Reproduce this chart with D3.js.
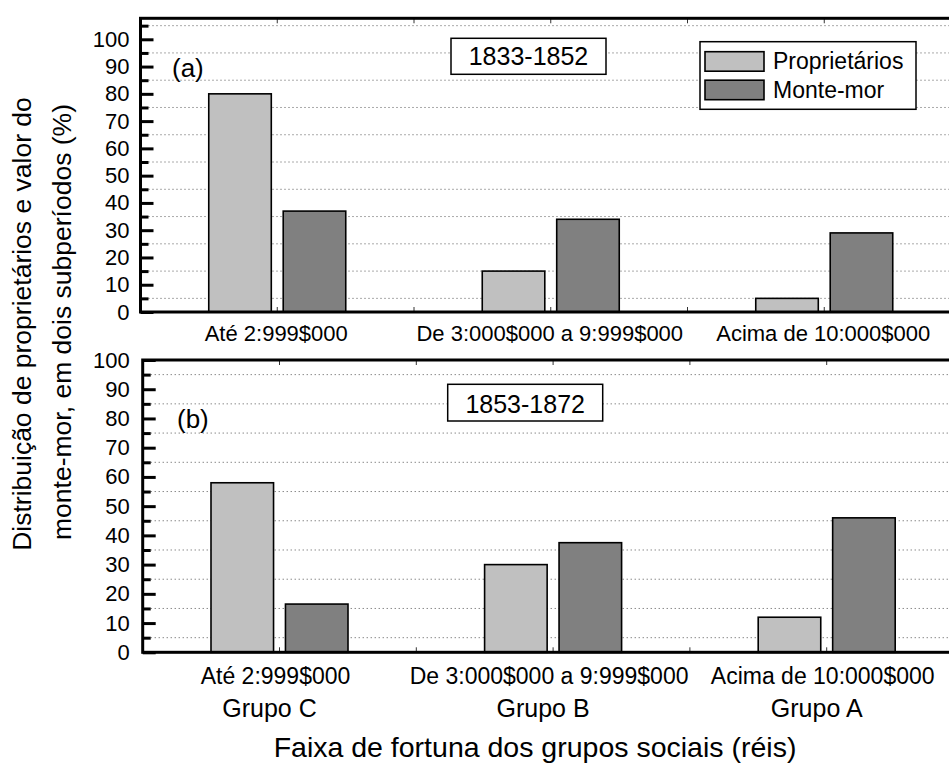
<!DOCTYPE html>
<html>
<head>
<meta charset="utf-8">
<script src="https://cdnjs.cloudflare.com/ajax/libs/d3/7.8.5/d3.min.js"></script>
<style>
body { margin: 0; background: #fff; }
svg { display: block; font-family: "Liberation Sans", Arial, sans-serif; }
</style>
</head>
<body>
<div id="chart"></div>
<script>
// data
var categories = ["Até 2:999$000", "De 3:000$000 a 9:999$000", "Acima de 10:000$000"]
var groupNames = ["Grupo C", "Grupo B", "Grupo A"]
var seriesNames = ["Proprietários", "Monte-mor"]
var periods = ["1833-1852", "1853-1872"]
var panelTags = ["(a)", "(b)"]
var proprietarios1 = [80, 15, 5]
var montemor1 = [37, 34, 29]
var proprietarios2 = [58, 30, 12]
var montemor2 = [16.5, 37.5, 46]
var majorTicks = d3.range(0, 101, 10)
var minorTicks = d3.range(5, 106, 10)

var colors = { "Proprietários": "#c0c0c0", "Monte-mor": "#808080" }

var width = 949, height = 766

var svg = d3.select('#chart')
    .append('svg')
    .attr('width', width)
    .attr('height', height)

function rows(a, b) {
    return categories.map(function(c, i) {
        return { cat: c, values: [ { key: seriesNames[0], v: a[i] }, { key: seriesNames[1], v: b[i] } ] }
    })
}

var panels = [
    { data: rows(proprietarios1, montemor1), xr: [140.5, 961], yDom: [0, 107.7], yr: [312, 18.3],
      tick: 11, labelOff: -1, labelY: 341, labelSize: 22, tag: [172, 77],
      box: { x: 451, y: 38.3, w: 155, h: 36, ty: 65 }, legend: true },
    { data: rows(proprietarios2, montemor2), xr: [142.7, 963.5], yDom: [0, 100], yr: [652.3, 360],
      tick: 13, labelOff: -4, labelY: 684, labelSize: 23, tag: [177, 428],
      box: { x: 447.7, y: 384.3, w: 155, h: 36.7, ty: 412.7 }, legend: false }
]

panels.forEach(function(p, pi) {
    var g = svg.append('g')

    var x = d3.scaleBand().domain(categories).range(p.xr).padding(0)
    var inner = d3.scaleBand().domain(seriesNames).range([-68.5, 68.5]).paddingInner(0.16)
    var y = d3.scaleLinear().domain(p.yDom).range(p.yr)

    var left = p.xr[0], right = p.xr[1], top = p.yr[1], bottom = p.yr[0]

    // dotted grid on the minor ticks
    g.selectAll('.grid')
        .data(minorTicks.filter(function(t) { return t < p.yDom[1] }))
        .enter().append('line')
        .attr('x1', left).attr('x2', right)
        .attr('y1', function(d) { return y(d) }).attr('y2', function(d) { return y(d) })
        .attr('stroke', '#555').attr('stroke-width', 1)
        .attr('stroke-dasharray', '1,3')

    // bars
    var grp = g.selectAll('.grp')
        .data(p.data)
        .enter().append('g')
        .attr('transform', function(d) { return 'translate(' + (x(d.cat) + x.bandwidth() / 2) + ',0)' })

    grp.selectAll('rect')
        .data(function(d) { return d.values })
        .enter().append('rect')
        .attr('x', function(d) { return inner(d.key) })
        .attr('width', inner.bandwidth())
        .attr('y', function(d) { return y(d.v) })
        .attr('height', function(d) { return y(0) - y(d.v) })
        .attr('fill', function(d) { return colors[d.key] })
        .attr('stroke', '#000').attr('stroke-width', 1.6)

    // thin x ticks at centres and boundaries
    var half = d3.range(0, categories.length * 2 + 1).map(function(i) { return left + i * x.bandwidth() / 2 })
    g.selectAll('.xt')
        .data(half.slice(1, -1))
        .enter().append('path')
        .attr('d', function(d) { return 'M' + d + ',' + top + 'v5M' + d + ',' + bottom + 'v-5' })
        .attr('stroke', '#333').attr('stroke-width', 1)

    // y axis: major + minor ticks pointing inward
    var axis = g.append('g')
        .attr('transform', 'translate(' + left + ',0)')
        .call(d3.axisLeft(y).tickValues(majorTicks).tickSize(-13).tickPadding(p.tick))
    axis.select('.domain').remove()
    axis.selectAll('line').attr('stroke', '#000').attr('stroke-width', 3)
    axis.selectAll('text').attr('font-size', 22).attr('fill', '#000')
        .attr('font-family', '"Liberation Sans", Arial, sans-serif')

    var minor = g.append('g')
        .attr('transform', 'translate(' + left + ',0)')
        .call(d3.axisLeft(y).tickValues(minorTicks.filter(function(t) { return t < p.yDom[1] }))
            .tickSize(-8).tickFormat(''))
    minor.select('.domain').remove()
    minor.selectAll('line').attr('stroke', '#000').attr('stroke-width', 3)

    // frame
    g.append('rect')
        .attr('x', left).attr('y', top)
        .attr('width', right - left).attr('height', bottom - top)
        .attr('fill', 'none').attr('stroke', '#000').attr('stroke-width', 3)

    // category labels
    g.selectAll('.cat')
        .data(categories)
        .enter().append('text')
        .attr('x', function(d) { return x(d) + x.bandwidth() / 2 + p.labelOff })
        .attr('y', p.labelY)
        .attr('text-anchor', 'middle')
        .attr('font-size', p.labelSize)
        .text(function(d) { return d })

    // panel tag
    g.append('text')
        .attr('x', p.tag[0]).attr('y', p.tag[1])
        .attr('font-size', 26)
        .text(panelTags[pi])

    // period box
    g.append('rect')
        .attr('x', p.box.x).attr('y', p.box.y)
        .attr('width', p.box.w).attr('height', p.box.h)
        .attr('fill', '#fff').attr('stroke', '#000').attr('stroke-width', 1.5)
    g.append('text')
        .attr('x', p.box.x + p.box.w / 2).attr('y', p.box.ty)
        .attr('text-anchor', 'middle')
        .attr('font-size', 25)
        .text(periods[pi])

    if (p.legend) {
        var lg = g.append('g')
        lg.append('rect')
            .attr('x', 700).attr('y', 41.7).attr('width', 216).attr('height', 67.6)
            .attr('fill', '#fff').attr('stroke', '#000').attr('stroke-width', 1.5)
        var item = lg.selectAll('.item')
            .data(seriesNames)
            .enter().append('g')
            .attr('transform', function(d, i) { return 'translate(705,' + (51.7 + i * 28.5) + ')' })
        item.append('rect')
            .attr('width', 59).attr('height', 19.5)
            .attr('fill', function(d) { return colors[d] })
            .attr('stroke', '#000').attr('stroke-width', 1.6)
        item.append('text')
            .attr('x', 68).attr('y', 17.5)
            .attr('font-size', 23)
            .text(function(d) { return d })
    }

    if (pi == 1) {
        g.selectAll('.grupo')
            .data(groupNames)
            .enter().append('text')
            .attr('x', function(d, i) { return x(categories[i]) + x.bandwidth() / 2 - 10 })
            .attr('y', 717)
            .attr('text-anchor', 'middle')
            .attr('font-size', 25)
            .text(function(d) { return d })
    }
})

// axis titles
svg.append('text')
    .attr('transform', 'translate(31,324) rotate(-90)')
    .attr('text-anchor', 'middle')
    .attr('font-size', 26.5)
    .text('Distribuição de proprietários e valor do')
svg.append('text')
    .attr('transform', 'translate(71,322) rotate(-90)')
    .attr('text-anchor', 'middle')
    .attr('font-size', 26.5)
    .text('monte-mor, em dois subperíodos (%)')

svg.append('text')
    .attr('x', 535).attr('y', 757)
    .attr('text-anchor', 'middle')
    .attr('font-size', 28.5)
    .text('Faixa de fortuna dos grupos sociais (réis)')
</script>
</body>
</html>
